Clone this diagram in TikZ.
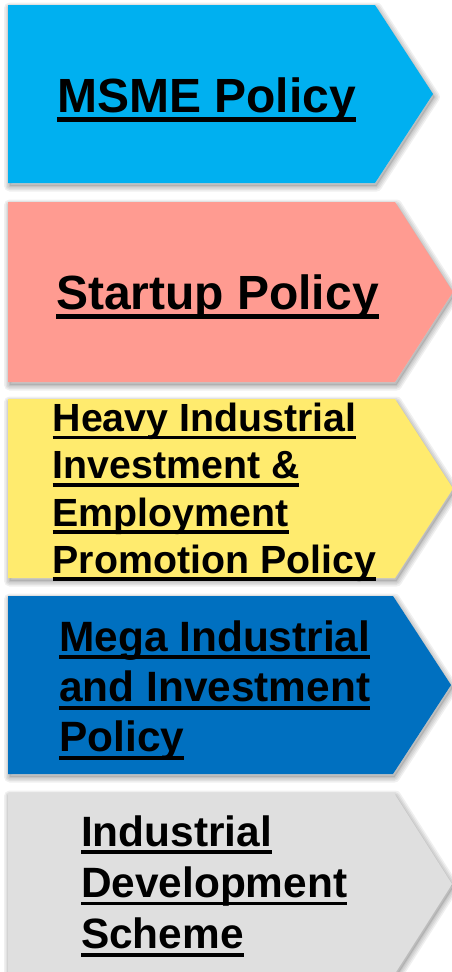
\documentclass[tikz,border=0pt]{standalone}
\usepackage{fontspec}
\setmainfont{Liberation Sans}
\definecolor{cA}{HTML}{00B0F0}
\definecolor{cB}{HTML}{FF9B91}
\definecolor{cC}{HTML}{FFEB6E}
\definecolor{cD}{HTML}{0070C0}
\definecolor{cE}{HTML}{DFDFDF}
\newcommand\ulw[1]{\setbox0\hbox{#1}\rlap{\rule[-0.195em]{\wd0}{0.09em}}\box0}
\tikzset{
  lbl/.style={anchor=base west, inner sep=0pt, outer sep=0pt, text=black},
  fbig/.style={font=\fontsize{48}{56}\selectfont\bfseries},
  fsmall/.style={font=\fontsize{39.3}{47}\selectfont\bfseries},
  fmid/.style={font=\fontsize{42.4}{50}\selectfont\bfseries},
}
\begin{document}
\begin{tikzpicture}[x=1pt,y=-1pt]
\useasboundingbox (0,0) rectangle (452,972);
\fill[white] (0,0) rectangle (452,972);
% arrow shapes with soft shadows
\foreach \t/\b/\r/\p/\c in {5/183/375/433/cA, 202/382/395/453/cB, 399/578/395/453/cC, 596/774/393/451/cD, 793/975/394/452/cE}{
  \pgfmathsetmacro\m{(\t+\b)/2}
  \begin{scope}[shift={(1.5,3)}]
    \foreach \w in {11,8,5,2}{
      \draw[black, opacity=0.06, line width=\w pt, line join=round]
        (8,\t) -- (\r,\t) -- (\p,\m) -- (\r,\b) -- (8,\b) -- cycle;
    }
    \fill[black, opacity=0.1] (8,\t) -- (\r,\t) -- (\p,\m) -- (\r,\b) -- (8,\b) -- cycle;
  \end{scope}
  \fill[\c] (8,\t) -- (\r,\t) -- (\p,\m) -- (\r,\b) -- (8,\b) -- cycle;
}
% labels
\node[lbl, fbig] (msme) at (57.3,112.3) {\ulw{MSME Policy}};
\node[lbl, fbig] (startup) at (56,309.3) {\ulw{Startup Policy}};
\node[lbl, fsmall] (heavy1) at (52.7,431.7) {\ulw{Heavy Industrial}};
\node[lbl, fsmall] (heavy2) at (52.7,478.9) {\ulw{Investment \&}};
\node[lbl, fsmall] (heavy3) at (52.7,526.1) {\ulw{Employment}};
\node[lbl, fsmall] (heavy4) at (52.7,573.3) {\ulw{Promotion Policy}};
\node[lbl, fmid] (mega1) at (59.3,651) {\ulw{Mega Industrial}};
\node[lbl, fmid] (mega2) at (59.3,701.3) {\ulw{and Investment}};
\node[lbl, fmid] (mega3) at (59.3,751.6) {\ulw{Policy}};
\node[lbl, fmid] (ind1) at (81,846) {\ulw{Industrial}};
\node[lbl, fmid] (ind2) at (81,897.2) {\ulw{Development}};
\node[lbl, fmid] (ind3) at (81,948.3) {\ulw{Scheme}};
\end{tikzpicture}
\end{document}
